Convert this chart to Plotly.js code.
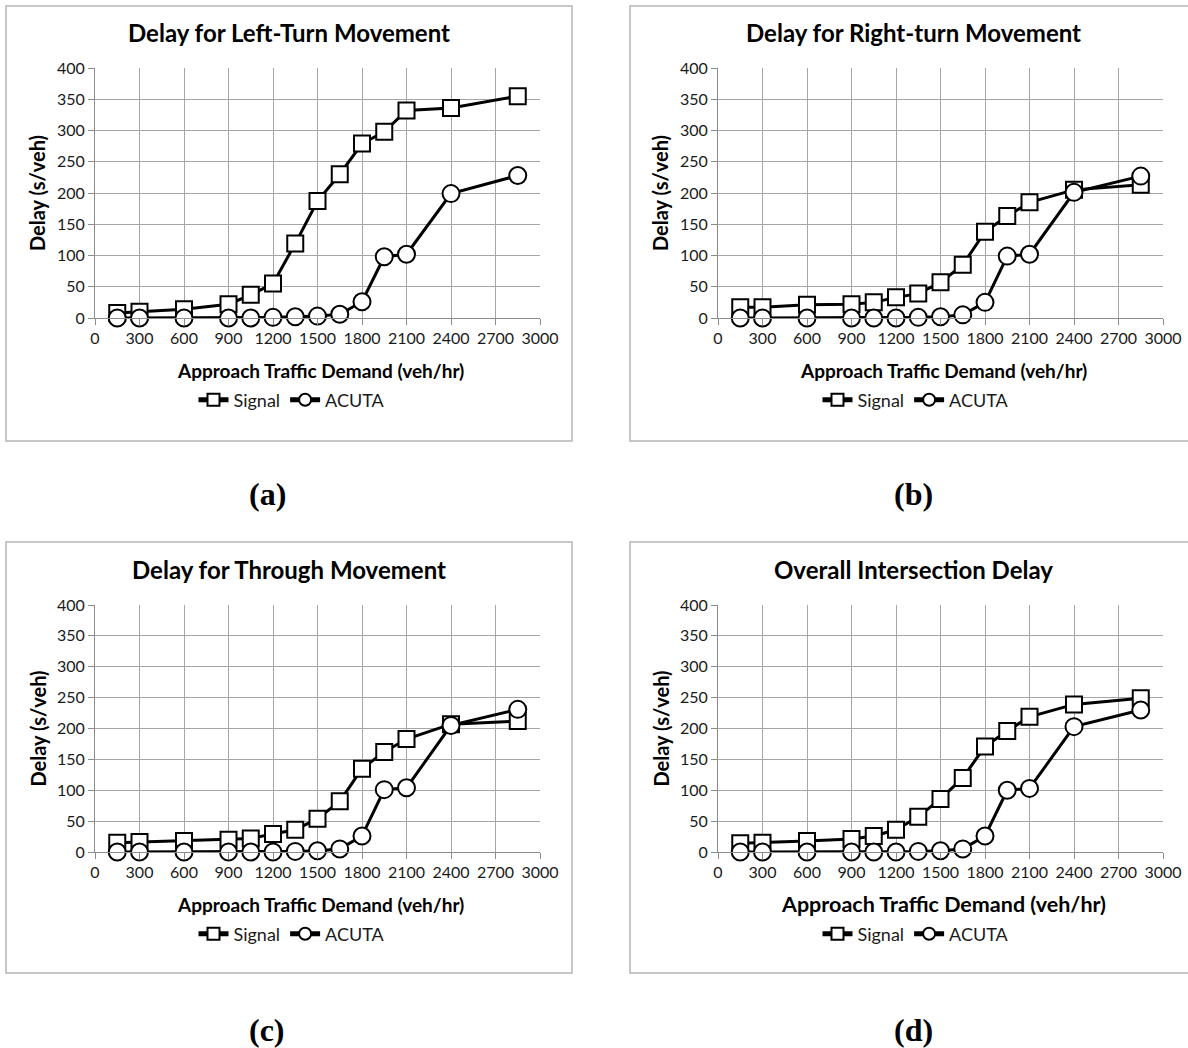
<!DOCTYPE html>
<html>
<head>
<meta charset="utf-8">
<script src="https://cdn.plot.ly/plotly-3.0.1.min.js"></script>
<style>
  html, body { margin: 0; padding: 0; background: #ffffff; }
  #chart { width: 1188px; height: 1048px; }
</style>
</head>
<body>
<div id="chart"></div>
<script>
// ---------- DATA ----------
const demand = [150, 300, 600, 900, 1050, 1200, 1350, 1500, 1650, 1800, 1950, 2100, 2400, 2850];

const leftSignal  = [8, 10, 14, 22, 37, 55, 119, 187, 230, 279, 298, 332, 336, 355];
const leftAcuta   = [0, 0, 0, 0, 0, 1, 2, 3, 6, 26, 98, 102, 199, 228];

const rightSignal = [17, 17, 21, 22, 25, 33, 39, 57, 85, 138, 163, 185, 205, 213];
const rightAcuta  = [0, 0, 0, 0, 0, 0, 1, 2, 5, 25, 99, 102, 201, 227];

const thruSignal  = [15, 16, 18, 20, 22, 29, 36, 54, 82, 135, 162, 183, 207, 212];
const thruAcuta   = [0, 0, 0, 0, 0, 0, 1, 2, 5, 26, 101, 104, 205, 231];

const allSignal   = [14, 15, 18, 21, 26, 36, 57, 86, 120, 171, 196, 219, 239, 249];
const allAcuta    = [0, 0, 0, 0, 0, 0, 1, 2, 5, 26, 100, 103, 203, 230];

const panelTitles = ["Delay for Left-Turn Movement", "Delay for Right-turn Movement",
                     "Delay for Through Movement", "Overall Intersection Delay"];
const panelLabels = ["(a)", "(b)", "(c)", "(d)"];
const seriesNames = ["Signal", "ACUTA"];
const xTitle = "Approach Traffic Demand (veh/hr)";
const yTitle = "Delay (s/veh)";
const xTicks = [0, 300, 600, 900, 1200, 1500, 1800, 2100, 2400, 2700, 3000];
const yTicks = [0, 50, 100, 150, 200, 250, 300, 350, 400];

const signalSets = [leftSignal, rightSignal, thruSignal, allSignal];
const acutaSets  = [leftAcuta, rightAcuta, thruAcuta, allAcuta];

// ---------- LAYOUT HELPERS ----------
const W = 1188, H = 1048;
const px = v => v / W;
const py = v => 1 - v / H;
const FONT = "Lato, 'Open Sans', sans-serif";

// pixel geometry for each panel
const geo = [
  {plotL: 95,  plotR: 540,  plotT: 68,  plotB: 318, boxL: 6,   boxR: 572,  boxT: 6,   boxB: 441, cx: 289, lab: [267, 494],  xtSize: 19},
  {plotL: 718, plotR: 1163, plotT: 68,  plotB: 318, boxL: 630, boxR: 1197, boxT: 6,   boxB: 441, cx: 913, lab: [913, 494],  xtSize: 19},
  {plotL: 95,  plotR: 540,  plotT: 605, plotB: 852, boxL: 6,   boxR: 572,  boxT: 542, boxB: 973, cx: 289, lab: [267, 1030], xtSize: 19},
  {plotL: 718, plotR: 1163, plotT: 605, plotB: 852, boxL: 630, boxR: 1197, boxT: 542, boxB: 973, cx: 913, lab: [913, 1030], xtSize: 21.5}
];

const traces = [];
const layout = {
  width: W, height: H,
  margin: {l: 0, r: 0, t: 0, b: 0},
  paper_bgcolor: "#ffffff",
  plot_bgcolor: "#ffffff",
  font: {family: FONT, color: "#000000"},
  shapes: [],
  annotations: []
};

geo.forEach((g, i) => {
  const n = i + 1;
  const xa = "x" + (n === 1 ? "" : n);
  const ya = "y" + (n === 1 ? "" : n);
  const xKey = "xaxis" + (n === 1 ? "" : n);
  const yKey = "yaxis" + (n === 1 ? "" : n);
  const legKey = "legend" + (n === 1 ? "" : n);

  const axisCommon = {
    showgrid: true, gridcolor: "#a6a6a6", gridwidth: 1,
    showline: true, linecolor: "#8c8c8c", linewidth: 1,
    ticks: "outside", ticklen: 6, tickcolor: "#8c8c8c", tickwidth: 1,
    zeroline: false, fixedrange: true,
    tickfont: {family: FONT, size: 16, color: "#1a1a1a"}
  };
  layout[xKey] = Object.assign({}, axisCommon, {
    domain: [px(g.plotL), px(g.plotR)],
    anchor: ya, range: [0, 3000],
    tickmode: "array", tickvals: xTicks, ticktext: xTicks.map(String)
  });
  layout[yKey] = Object.assign({}, axisCommon, {
    domain: [py(g.plotB), py(g.plotT)],
    anchor: xa, range: [0, 400],
    tickmode: "array", tickvals: yTicks, ticktext: yTicks.map(String)
  });

  layout[legKey] = {
    orientation: "h",
    x: px(g.cx + 3), y: py(g.plotB + 82),
    xanchor: "center", yanchor: "middle",
    xref: "paper", yref: "paper",
    font: {family: FONT, size: 18, color: "#1a1a1a"},
    bgcolor: "rgba(0,0,0,0)",
    itemwidth: 30,
    itemsizing: "constant",
    tracegroupgap: 0
  };

  traces.push({
    type: "scatter", mode: "lines+markers",
    x: demand, y: signalSets[i], name: seriesNames[0],
    xaxis: xa, yaxis: ya, legend: legKey,
    line: {color: "#000000", width: 3},
    marker: {symbol: "square", size: 16, color: "#ffffff", line: {color: "#000000", width: 2}},
    cliponaxis: false
  });
  traces.push({
    type: "scatter", mode: "lines+markers",
    x: demand, y: acutaSets[i], name: seriesNames[1],
    xaxis: xa, yaxis: ya, legend: legKey,
    line: {color: "#000000", width: 3},
    marker: {symbol: "circle", size: 17, color: "#ffffff", line: {color: "#000000", width: 2}},
    cliponaxis: false
  });

  // chart border
  layout.shapes.push({
    type: "rect", xref: "paper", yref: "paper",
    x0: px(g.boxL), x1: px(g.boxR), y0: py(g.boxB), y1: py(g.boxT),
    line: {color: "#b5b5b5", width: 1.5}, fillcolor: "rgba(0,0,0,0)", layer: "below"
  });

  // chart title
  layout.annotations.push({
    text: "<b>" + panelTitles[i] + "</b>", xref: "paper", yref: "paper",
    x: px(g.cx), y: py(g.plotT - 36), xanchor: "center", yanchor: "middle",
    showarrow: false, font: {family: FONT, size: 24, color: "#000000"}
  });
  // x axis title
  layout.annotations.push({
    text: "<b>" + xTitle + "</b>", xref: "paper", yref: "paper",
    x: px((g.plotL + g.plotR) / 2 + 3), y: py(g.plotB + 52), xanchor: "center", yanchor: "middle",
    showarrow: false, font: {family: FONT, size: g.xtSize, color: "#000000"}
  });
  // y axis title
  layout.annotations.push({
    text: "<b>" + yTitle + "</b>", xref: "paper", yref: "paper",
    x: px(g.plotL - 58), y: py((g.plotT + g.plotB) / 2), xanchor: "center", yanchor: "middle",
    textangle: -90, showarrow: false, font: {family: FONT, size: 20, color: "#000000"}
  });
  // panel label
  layout.annotations.push({
    text: "<b>" + panelLabels[i] + "</b>", xref: "paper", yref: "paper",
    x: px(g.lab[0]), y: py(g.lab[1]), xanchor: "center", yanchor: "middle",
    showarrow: false, font: {family: "'Liberation Serif', 'Times New Roman', serif", size: 32, color: "#000000"}
  });
});

Plotly.newPlot("chart", traces, layout, {displayModeBar: false, staticPlot: true});
</script>
</body>
</html>
